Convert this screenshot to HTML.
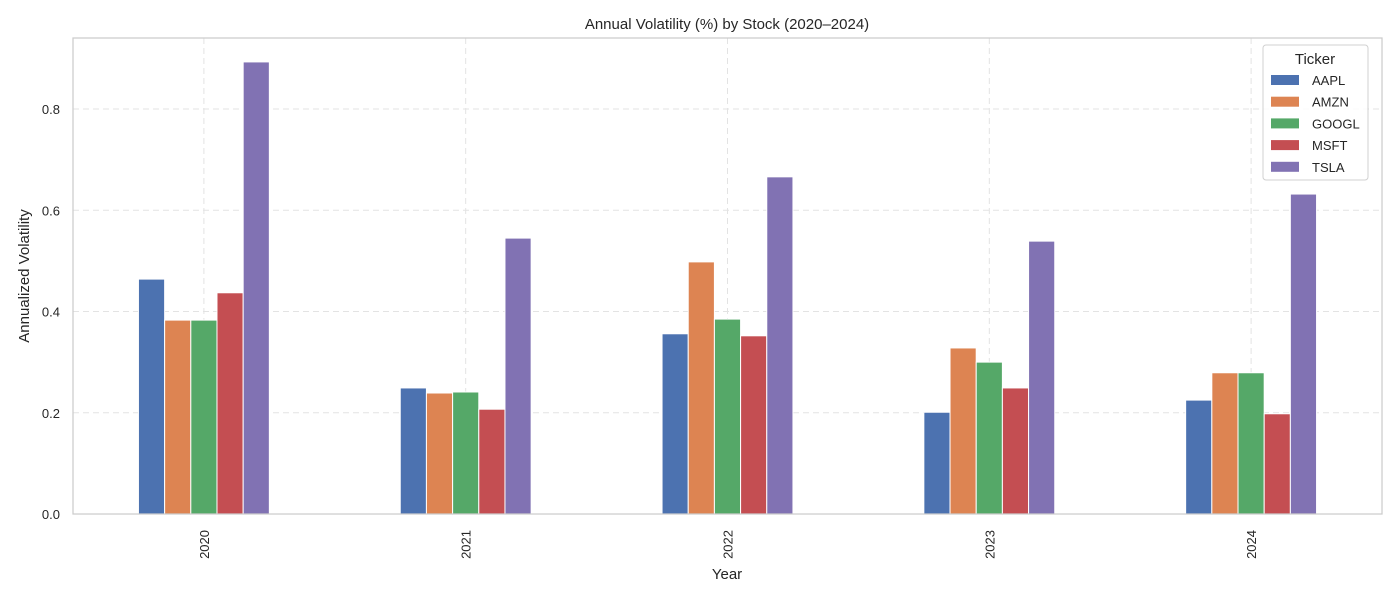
<!DOCTYPE html>
<html><head><meta charset="utf-8"><style>
body{margin:0;background:#fff;font-family:"Liberation Sans",Arial,sans-serif;}
svg text{font-family:"Liberation Sans",Arial,sans-serif;fill:#262626;}
</style></head><body>
<svg id="chart" width="1400" height="600" xmlns="http://www.w3.org/2000/svg">
<rect x="0" y="0" width="1400" height="600" fill="#fff"/>
<text x="727" y="29" font-size="15" text-anchor="middle">Annual Volatility (%) by Stock (2020–2024)</text>
<g id="grid"></g><g id="bars"></g><g id="axes"></g>
<text x="727" y="579" font-size="15" text-anchor="middle">Year</text>
<text transform="translate(29,276) rotate(-90)" font-size="15" text-anchor="middle">Annualized Volatility</text>
<g id="legend"></g>
</svg>
<script>
const years = ["2020","2021","2022","2023","2024"];
const tickers = ["AAPL","AMZN","GOOGL","MSFT","TSLA"];
const aapl = [0.464,0.249,0.356,0.201,0.225];
const amzn = [0.383,0.239,0.498,0.328,0.279];
const googl = [0.383,0.241,0.385,0.300,0.279];
const msft = [0.437,0.207,0.352,0.249,0.198];
const tsla = [0.893,0.545,0.666,0.539,0.632];
const yTicks = [0.0,0.2,0.4,0.6,0.8];
const series = [aapl,amzn,googl,msft,tsla];
const colors = ["#4c72b0","#dd8452","#55a868","#c44e52","#8172b3"];
const NS="http://www.w3.org/2000/svg";
const L=73,R=1382,T=38,B=514;
const yMax=(B-T)/506.25;
function y(v){return B-v/yMax*(B-T);}
const step=(R-L)/years.length;
function xc(i){return L+step*(i+0.5);}
const bw=step*0.5/tickers.length;
function mk(tag,attrs,parent){const e=document.createElementNS(NS,tag);for(const k in attrs)e.setAttribute(k,attrs[k]);parent.appendChild(e);return e;}
const grid=document.getElementById('grid'),bars=document.getElementById('bars'),axes=document.getElementById('axes'),leg=document.getElementById('legend');
yTicks.forEach(t=>{
  const gl=mk('line',{x1:L,x2:R,y1:y(t),y2:y(t),stroke:'#e3e3e3','stroke-dasharray':'6,4'},grid);
  
  
  const tx=mk('text',{x:L-13,y:y(t)+5,'font-size':'13','text-anchor':'end'},axes);
  tx.textContent=t.toFixed(1);
  
  
});
years.forEach((yr,i)=>{
  const gl=mk('line',{x1:xc(i),x2:xc(i),y1:T,y2:B,stroke:'#e3e3e3','stroke-dasharray':'6,4'},grid);
  
  
  const tx=mk('text',{transform:`translate(${xc(i)+5},${B+16}) rotate(-90)`,'font-size':'13','text-anchor':'end'},axes);
  tx.textContent=yr;
  
  
  series.forEach((s,j)=>{
    const x0=xc(i)-step*0.25+j*bw;
    const r=mk('rect',{x:x0,y:y(s[i]),width:bw,height:B-y(s[i]),fill:colors[j],stroke:'#fff','stroke-width':'1'},bars);
    
    
  });
});
const frame=mk('rect',{x:L,y:T,width:R-L,height:B-T,fill:'none',stroke:'#cccccc','stroke-width':'1.25'},axes);


const lb=mk('rect',{x:1263,y:45,width:105,height:135,rx:3,fill:'#fff','fill-opacity':'0.85',stroke:'#d0d0d0'},leg);


const lt=mk('text',{x:1315,y:64,'font-size':'15','text-anchor':'middle'},leg);
lt.textContent='Ticker';


tickers.forEach((tk,j)=>{
  const yy=80+j*21.7;
  const p=mk('rect',{x:1271,y:yy-5,width:28,height:10,fill:colors[j]},leg);
  
  
  const t=mk('text',{x:1312,y:yy+5,'font-size':'13'},leg);
  t.textContent=tk;
  
  
});
</script>
</body></html>
